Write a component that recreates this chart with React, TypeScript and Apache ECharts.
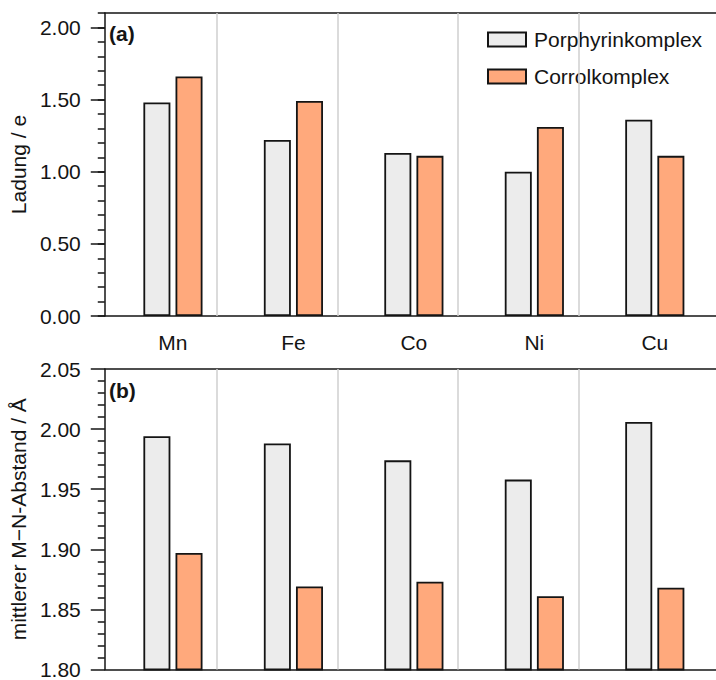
import React, { useEffect, useRef } from "react";
import * as echarts from "echarts";

const categories = ["Mn", "Fe", "Co", "Ni", "Cu"];
const seriesNames = ["Porphyrinkomplex", "Corrolkomplex"];
const chargePorphyrin = [1.48, 1.22, 1.13, 1.0, 1.36];
const chargeCorrol = [1.66, 1.49, 1.11, 1.31, 1.11];
const distPorphyrin = [1.994, 1.988, 1.974, 1.958, 2.006];
const distCorrol = [1.897, 1.869, 1.873, 1.861, 1.868];
const chargeTicks = [0, 0.5, 1.0, 1.5, 2.0];
const separators = [0.5, 1.5, 2.5, 3.5];
const panelLabels = ["(a)", "(b)"];
const axisNames = ["Ladung / e", "mittlerer M\u2212N-Abstand / \u00c5"];

const FONT = "'Liberation Sans', Arial, sans-serif";
const FS = 21;
const TEXT = "#141414";
const LINE = "#141414";
const GRAY = "#ececec";
const ORANGE = "#ffa97c";
const XMIN = -0.566;
const XMAX = 4.508;

export default function App() {
  const ref = useRef<HTMLDivElement>(null);
  useEffect(() => {
    if (!ref.current) return;
    const chart = echarts.init(ref.current, undefined, { renderer: "svg" });
    const idx = categories.map((_, i) => i);
    const pairs = (vals: number[]) => vals.map((v, i) => [idx[i], v]);

    const xBase = (grid: number, pos: "bottom" | "top", labels: boolean) => ({
      type: "value",
      gridIndex: grid,
      position: pos,
      min: XMIN,
      max: XMAX,
      axisLine: { show: true, onZero: false, lineStyle: { color: LINE, width: 1.5 } },
      axisTick: { show: false },
      splitLine: { show: false },
      axisLabel: labels
        ? {
            show: true,
            customValues: idx,
            formatter: (v: number) => categories[Math.round(v)] ?? "",
            fontSize: FS,
            fontFamily: FONT,
            color: TEXT,
            margin: 16,
          }
        : { show: false },
    });

    const barStyle = (color: string) => ({
      color,
      borderColor: LINE,
      borderWidth: 1.8,
    });

    const sepLine = {
      silent: true,
      symbol: "none",
      label: { show: false },
      lineStyle: { color: "#cfcfcf", type: "solid", width: 1.5 },
      data: separators.map((s) => ({ xAxis: s })),
    };

    const tickStyle = { color: LINE, width: 1.5 };

    const option: any = {
      animation: false,
      backgroundColor: "#fff",
      textStyle: { fontFamily: FONT },
      grid: [
        { left: 102, right: 0, top: 13, height: 303 },
        { left: 102, right: 0, top: 369, height: 303 },
      ],
      xAxis: [
        xBase(0, "bottom", true),
        xBase(0, "top", false),
        xBase(1, "bottom", false),
        xBase(1, "top", false),
      ],
      yAxis: [
        {
          type: "value",
          gridIndex: 0,
          position: "left",
          min: 0,
          max: 2.1,
          interval: 0.1,
          name: axisNames[0],
          nameLocation: "middle",
          nameGap: 66,
          nameTextStyle: { fontSize: FS, fontFamily: FONT, color: TEXT },
          axisLine: { show: true, onZero: false, lineStyle: tickStyle },
          axisTick: { show: true, length: 7, lineStyle: tickStyle },
          axisLabel: {
            customValues: chargeTicks,
            formatter: (v: number) => v.toFixed(2),
            fontSize: FS,
            fontFamily: FONT,
            color: TEXT,
            margin: 24,
          },
          splitLine: { show: false },
        },
        {
          type: "value",
          gridIndex: 0,
          position: "left",
          min: 0,
          max: 2.1,
          interval: 0.5,
          axisLine: { show: false, onZero: false },
          axisTick: {
            show: true,
            customValues: chargeTicks,
            length: 14,
            lineStyle: tickStyle,
          },
          axisLabel: { show: false },
          splitLine: { show: false },
        },
        {
          type: "value",
          gridIndex: 1,
          position: "left",
          min: 1.8,
          max: 2.05,
          interval: 0.05,
          name: axisNames[1],
          nameLocation: "middle",
          nameGap: 66,
          nameTextStyle: { fontSize: FS, fontFamily: FONT, color: TEXT },
          axisLine: { show: true, onZero: false, lineStyle: tickStyle },
          axisTick: { show: true, length: 14, lineStyle: tickStyle },
          minorTick: { show: true, splitNumber: 5, length: 7, lineStyle: tickStyle },
          axisLabel: {
            formatter: (v: number) => v.toFixed(2),
            fontSize: FS,
            fontFamily: FONT,
            color: TEXT,
            margin: 24,
          },
          splitLine: { show: false },
        },
      ],
      legend: {
        orient: "vertical",
        left: 476,
        top: 15,
        padding: [14, 20, 15, 11],
        backgroundColor: "#fff",
        itemWidth: 38,
        itemHeight: 14,
        itemGap: 16,
        icon: "rect",
        data: seriesNames,
        textStyle: { fontSize: FS, fontFamily: FONT, color: TEXT, padding: [0, 0, 0, 3] },
        selectedMode: false,
      },
      graphic: [
        {
          type: "text",
          left: 109,
          top: 23,
          style: { text: panelLabels[0], font: `bold ${FS}px ${FONT}`, fill: TEXT },
        },
        {
          type: "text",
          left: 109,
          top: 380,
          style: { text: panelLabels[1], font: `bold ${FS}px ${FONT}`, fill: TEXT },
        },
      ],
      series: [
        {
          name: seriesNames[0],
          type: "bar",
          xAxisIndex: 0,
          yAxisIndex: 0,
          barWidth: 27,
          barGap: "19%",
          itemStyle: barStyle(GRAY),
          data: pairs(chargePorphyrin),
          markLine: sepLine,
        },
        {
          name: seriesNames[1],
          type: "bar",
          xAxisIndex: 0,
          yAxisIndex: 0,
          barWidth: 27,
          barGap: "19%",
          itemStyle: barStyle(ORANGE),
          data: pairs(chargeCorrol),
        },
        {
          name: seriesNames[0],
          type: "bar",
          xAxisIndex: 2,
          yAxisIndex: 2,
          barWidth: 27,
          barGap: "19%",
          itemStyle: barStyle(GRAY),
          data: pairs(distPorphyrin),
          markLine: sepLine,
        },
        {
          name: seriesNames[1],
          type: "bar",
          xAxisIndex: 2,
          yAxisIndex: 2,
          barWidth: 27,
          barGap: "19%",
          itemStyle: barStyle(ORANGE),
          data: pairs(distCorrol),
        },
      ],
    };
    chart.setOption(option);
    return () => chart.dispose();
  }, []);
  return (
    <div
      ref={ref}
      style={{ position: "fixed", left: 0, top: 0, width: 716, height: 680, background: "#fff" }}
    />
  );
}
